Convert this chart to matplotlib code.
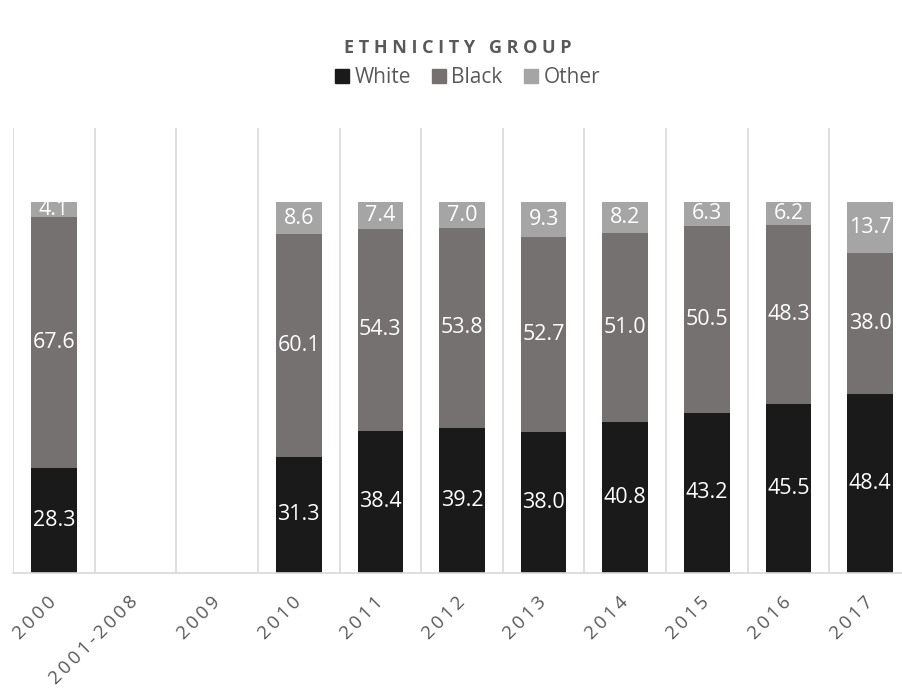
import numpy as np
import matplotlib
matplotlib.use("Agg")
import matplotlib.pyplot as plt
from matplotlib.patches import Patch

plt.rcParams["font.family"] = ["Open Sans", "DejaVu Sans"]

years = ["2000", "2001-2008", "2009", "2010", "2011", "2012", "2013",
         "2014", "2015", "2016", "2017"]
white = [28.3, np.nan, np.nan, 31.3, 38.4, 39.2, 38.0, 40.8, 43.2, 45.5, 48.4]
black = [67.6, np.nan, np.nan, 60.1, 54.3, 53.8, 52.7, 51.0, 50.5, 48.3, 38.0]
other = [4.1, np.nan, np.nan, 8.6, 7.4, 7.0, 9.3, 8.2, 6.3, 6.2, 13.7]

series = [("White", white, "#1a1a1a"),
          ("Black", black, "#767171"),
          ("Other", other, "#a5a5a5")]
TXT = "#595959"
GRID = "#d9d9d9"

fig = plt.figure(figsize=(9.02, 6.89), dpi=100)
# plot area runs slightly past the right edge of the canvas
ax = fig.add_axes([13/902, 116/689, 898/902, 445/689])

x = np.arange(len(years))
bottom = np.zeros(len(years))
for name, vals, col in series:
    v = np.array(vals, dtype=float)
    h = np.nan_to_num(v)
    bars = ax.bar(x, h, 0.56, bottom=bottom, color=col, label=name, zorder=2)
    labels = ["" if np.isnan(t) else f"{t:.1f}" for t in v]
    ax.bar_label(bars, labels=labels, label_type="center", color="white",
                 fontsize=15.5)
    bottom += h

for i in range(len(years) + 1):
    ax.axvline(i - 0.5, color=GRID, lw=1.2, zorder=1)

ax.set_xlim(-0.5, len(years) - 0.5)
ax.set_ylim(0, 120)
ax.set_yticks([])
for s in ["top", "right", "left"]:
    ax.spines[s].set_visible(False)
ax.spines["bottom"].set_color(GRID)
ax.spines["bottom"].set_linewidth(1.2)
ax.spines["bottom"].set_zorder(3)

spaced = ["\u2009".join(t) for t in years]
ax.set_xticks(x)
ax.set_xticklabels(spaced, rotation=45, ha="right", va="center",
                   rotation_mode="anchor", fontsize=13.5, color=TXT)
ax.tick_params(axis="x", length=0, pad=19)

fig.text(0.508, 0.931, " ".join("ETHNICITY") + "   " + " ".join("GROUP"),
         ha="center", va="center", fontsize=13, fontweight="bold", color=TXT)

handles = [Patch(color=c, label=n) for n, _, c in series]
fig.legend(handles=handles, loc="center", bbox_to_anchor=(0.518, 0.887),
           ncol=3, frameon=False, fontsize=15, labelcolor=TXT,
           handlelength=0.7, handleheight=0.7, handletextpad=0.25,
           columnspacing=1.0)

fig.savefig("out.png", dpi=100)
